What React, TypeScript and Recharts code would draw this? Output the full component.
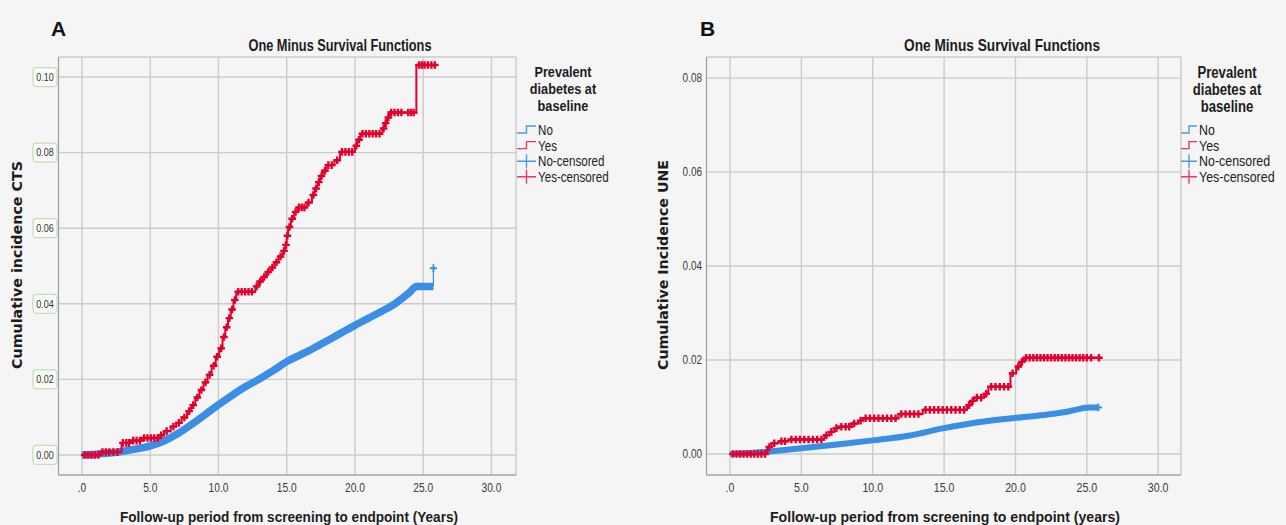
import React from 'react';
import { ComposedChart, Line, Scatter, XAxis, YAxis, CartesianGrid, Legend } from 'recharts';

type Pt = [number, number];

// ---------- shared axis data ----------
const xTicks = [0, 5, 10, 15, 20, 25, 30];
const xTickLabels = ['.0', '5.0', '10.0', '15.0', '20.0', '25.0', '30.0'];
const yTicksA = [0, 0.02, 0.04, 0.06, 0.08, 0.1];
const yTicksB = [0, 0.02, 0.04, 0.06, 0.08];
const legendTitle = ['Prevalent', 'diabetes at', 'baseline'];
const legendItems = ['No', 'Yes', 'No-censored', 'Yes-censored'];

// ---------- Panel A (CTS) ----------
const noCurveA: Pt[] = [
  [0, 0], [1, 0.0002], [2, 0.0005], [3, 0.001], [4, 0.0016], [5, 0.0024], [6, 0.0037],
  [7, 0.0056], [8, 0.008], [9, 0.0106], [10, 0.0133], [11, 0.0158], [12, 0.0181],
  [13, 0.0201], [14, 0.0223], [15, 0.0247], [16, 0.0265], [17, 0.0283], [18, 0.0303],
  [19, 0.0323], [20, 0.0343], [21, 0.0362], [22, 0.0381], [23, 0.0402], [24, 0.043],
  [24.5, 0.0446], [25.75, 0.0446],
];
const noLastStepA: Pt[] = [[25.75, 0.0446], [25.75, 0.0494]];
const noCensA: Pt[] = [[25.75, 0.0494]];

const yesStepsA: Pt[] = [
  [0, 0], [1.3, 0.0008], [2.9, 0.0032], [3.6, 0.0038], [4.4, 0.0045], [5.6, 0.0052],
  [6.0, 0.0063], [6.5, 0.0075], [6.9, 0.0085], [7.3, 0.0099], [7.7, 0.0116], [8.0, 0.0132],
  [8.3, 0.0152], [8.6, 0.0172], [8.9, 0.0192], [9.2, 0.0212], [9.5, 0.0236], [9.8, 0.026],
  [10.05, 0.0282], [10.3, 0.0312], [10.5, 0.0338], [10.7, 0.0362], [10.9, 0.0385],
  [11.1, 0.041], [11.3, 0.0432], [12.7, 0.0446], [12.95, 0.0459], [13.2, 0.0471],
  [13.5, 0.0484], [13.8, 0.0496], [14.1, 0.051], [14.4, 0.0525], [14.7, 0.054],
  [14.9, 0.0556], [15.0, 0.058], [15.1, 0.0603], [15.3, 0.0625], [15.55, 0.0643],
  [15.8, 0.0655], [16.5, 0.0668], [16.85, 0.0688], [17.05, 0.0705], [17.25, 0.0722],
  [17.45, 0.0738], [17.65, 0.0752], [17.9, 0.0767], [18.5, 0.078], [18.9, 0.0802],
  [20.0, 0.0818], [20.15, 0.0834], [20.4, 0.085], [22.0, 0.0864], [22.15, 0.0878],
  [22.35, 0.0893], [22.5, 0.0906], [24.5, 0.1032], [25.9, 0.1032],
];
const yesCensA: Pt[] = [
  [0.2, 0], [0.45, 0], [0.7, 0], [0.95, 0], [1.2, 0], [1.5, 0.0008], [1.75, 0.0008],
  [2.0, 0.0008], [2.3, 0.0008], [2.6, 0.0008], [3.0, 0.0032], [3.25, 0.0032], [3.45, 0.0032],
  [3.75, 0.0038], [4.0, 0.0038], [4.25, 0.0038], [4.55, 0.0045], [4.8, 0.0045], [5.05, 0.0045],
  [5.3, 0.0045], [5.55, 0.0045], [5.8, 0.0052], [6.2, 0.0063], [6.7, 0.0075], [7.1, 0.0085],
  [7.5, 0.0099], [7.85, 0.0116], [8.15, 0.0132], [8.45, 0.0152], [8.75, 0.0172],
  [9.05, 0.0192], [9.35, 0.0212], [9.65, 0.0236], [9.9, 0.026], [10.2, 0.0282],
  [10.4, 0.0312], [10.6, 0.0338], [10.8, 0.0362], [11.0, 0.0385], [11.2, 0.041],
  [11.45, 0.0432], [11.7, 0.0432], [11.95, 0.0432], [12.2, 0.0432], [12.45, 0.0432],
  [12.8, 0.0446], [13.05, 0.0459], [13.35, 0.0471], [13.65, 0.0484], [13.95, 0.0496],
  [14.25, 0.051], [14.55, 0.0525], [14.8, 0.054], [14.95, 0.0556], [15.05, 0.058],
  [15.2, 0.0603], [15.4, 0.0625], [15.65, 0.0643], [15.9, 0.0655], [16.1, 0.0655],
  [16.3, 0.0655], [16.6, 0.0668], [16.95, 0.0688], [17.15, 0.0705], [17.35, 0.0722],
  [17.55, 0.0738], [17.8, 0.0752], [18.05, 0.0767], [18.3, 0.0767], [18.7, 0.078],
  [19.05, 0.0802], [19.3, 0.0802], [19.55, 0.0802], [19.8, 0.0802], [20.1, 0.0818],
  [20.3, 0.0834], [20.55, 0.085], [20.8, 0.085], [21.05, 0.085], [21.3, 0.085],
  [21.55, 0.085], [21.8, 0.085], [22.1, 0.0864], [22.25, 0.0878], [22.45, 0.0893],
  [22.65, 0.0906], [22.9, 0.0906], [23.15, 0.0906], [23.4, 0.0906], [23.9, 0.0906],
  [24.1, 0.0906], [24.3, 0.0906], [24.7, 0.1032], [24.9, 0.1032], [25.1, 0.1032],
  [25.35, 0.1032], [25.6, 0.1032], [25.85, 0.1032],
];

// ---------- Panel B (UNE) ----------
const noCurveB: Pt[] = [
  [0, 0], [1.5, 0.0002], [2.6, 0.0005], [5, 0.0012], [7.5, 0.002], [10, 0.0029],
  [12.5, 0.0039], [15, 0.0055], [17.5, 0.0068], [20, 0.0077], [22, 0.0083],
  [23.6, 0.009], [25.2, 0.0099], [25.8, 0.0099],
];
const noCensB: Pt[] = [[25.8, 0.0099]];

const yesStepsB: Pt[] = [
  [0, 0], [2.6, 0.0015], [2.9, 0.0023], [3.4, 0.0027], [4.1, 0.0031], [6.6, 0.004],
  [6.95, 0.0047], [7.3, 0.0055], [7.6, 0.0058], [8.5, 0.0065], [9.0, 0.0071], [9.3, 0.0076],
  [11.8, 0.0085], [13.5, 0.0094], [16.6, 0.0104], [16.9, 0.0113], [17.1, 0.012],
  [17.8, 0.0128], [18.1, 0.0143], [19.65, 0.0172], [20.05, 0.0186], [20.35, 0.0196],
  [20.6, 0.0205], [25.85, 0.0205],
];
const yesCensB: Pt[] = [
  [0.2, 0], [0.45, 0], [0.7, 0], [0.95, 0], [1.2, 0], [1.45, 0], [1.7, 0], [1.95, 0],
  [2.2, 0], [2.45, 0],
  [2.75, 0.0015], [3.1, 0.0023], [3.6, 0.0027], [3.85, 0.0027], [4.3, 0.0031], [4.6, 0.0031],
  [4.9, 0.0031], [5.2, 0.0031], [5.5, 0.0031], [5.8, 0.0031], [6.1, 0.0031], [6.4, 0.0031],
  [6.75, 0.004], [7.1, 0.0047], [7.45, 0.0055], [7.8, 0.0058], [8.1, 0.0058], [8.35, 0.0058],
  [8.7, 0.0065], [9.15, 0.0071], [9.5, 0.0076], [9.8, 0.0076], [10.1, 0.0076], [10.4, 0.0076],
  [10.7, 0.0076], [11.0, 0.0076], [11.3, 0.0076], [11.6, 0.0076], [12.0, 0.0085],
  [12.3, 0.0085], [12.6, 0.0085], [12.9, 0.0085], [13.2, 0.0085], [13.7, 0.0094],
  [14.0, 0.0094], [14.3, 0.0094], [14.6, 0.0094], [14.9, 0.0094], [15.2, 0.0094],
  [15.5, 0.0094], [15.8, 0.0094], [16.1, 0.0094], [16.4, 0.0094], [16.75, 0.0104],
  [17.0, 0.0113], [17.3, 0.012], [17.6, 0.012], [17.95, 0.0128], [18.3, 0.0143],
  [18.6, 0.0143], [18.9, 0.0143], [19.2, 0.0143], [19.5, 0.0143], [19.8, 0.0172],
  [20.2, 0.0186], [20.45, 0.0196], [20.75, 0.0205], [21.0, 0.0205], [21.25, 0.0205],
  [21.5, 0.0205], [21.75, 0.0205], [22.0, 0.0205], [22.25, 0.0205], [22.5, 0.0205],
  [22.75, 0.0205], [23.0, 0.0205], [23.25, 0.0205], [23.5, 0.0205], [23.75, 0.0205],
  [24.0, 0.0205], [24.25, 0.0205], [24.5, 0.0205], [24.75, 0.0205], [25.0, 0.0205],
  [25.3, 0.0205], [25.85, 0.0205],
];

// ---------- styling ----------
const RED = '#e3002c';
const BLUE = '#3a8ee6';
const LEG_RED = '#e8395f';
const LEG_BLUE = '#4d9be8';
const SANS = "'Liberation Sans', Arial, sans-serif";
const WIDE = "'DejaVu Sans', Verdana, sans-serif";
const GRID = '#cbcbcb';
const AXIS = '#9c9c9c';
const INK = '#1c1c1c';

const rows = (pts: Pt[]) => pts.map(([t, v]) => ({ t, v }));

const plusShape = (color: string, h = 3.6, w = 3.6, sw = 2) => (props: any) => {
  const { cx, cy } = props;
  if (cx == null || cy == null) return <g />;
  return (
    <path
      d={`M${cx - w},${cy}H${cx + w}M${cx},${cy - h}V${cy + h}`}
      stroke={color}
      strokeWidth={sw}
      fill="none"
    />
  );
};

// narrow text via horizontal squeeze
const NText = ({ x, y, size, sx = 0.83, anchor = 'middle', weight = 'normal', fill = '#333', children }: any) => (
  <g transform={`translate(${x},${y}) scale(${sx},1)`}>
    <text x={0} y={0} dy="0.35em" textAnchor={anchor} fontFamily={SANS} fontSize={size} fontWeight={weight} fill={fill}>
      {children}
    </text>
  </g>
);

const XTick = (fontSize: number) => (props: any) => {
  const { x, payload } = props;
  const i = xTicks.indexOf(payload.value);
  return <NText x={x} y={488} size={fontSize} sx={0.85} fill="#3a3a3a">{i >= 0 ? xTickLabels[i] : ''}</NText>;
};

const BoxYTick = (props: any) => {
  const { y, payload } = props;
  return (
    <g>
      <rect x={33} y={y - 9.5} width={24} height={19} rx={3.5} fill="#f9fbf8" stroke="#bfe0b5" strokeWidth={1.2} />
      <NText x={45} y={y} size={11} sx={0.82} fill="#333">{Number(payload.value).toFixed(2)}</NText>
    </g>
  );
};

const PlainYTick = (props: any) => {
  const { y, payload } = props;
  return <NText x={59} y={y} size={12} sx={0.83} anchor="end" fill="#3a3a3a">{Number(payload.value).toFixed(2)}</NText>;
};

const LegendBox = ({ titleX, iconX, textX, fontSize, titleSize, iconW }: any) => (
  <svg width={140} height={130} style={{ display: 'block', overflow: 'visible' }}>
    {legendTitle.map((s, i) => (
      <NText key={s} x={titleX} y={12 + i * 17} size={titleSize} sx={0.82} weight="bold" fill={INK}>{s}</NText>
    ))}
    {legendItems.map((s, i) => {
      const cy = 70 + i * 15.6;
      const color = i % 2 === 0 ? LEG_BLUE : LEG_RED;
      const mid = iconX + iconW / 2;
      return (
        <g key={s}>
          {i < 2 ? (
            <path d={`M${iconX},${cy + 3}H${mid}V${cy - 4}H${iconX + iconW}`} stroke={color} strokeWidth={1.4} fill="none" />
          ) : (
            <path d={`M${iconX},${cy}H${iconX + iconW}M${mid},${cy - 7}V${cy + 7}`} stroke={color} strokeWidth={1.4} fill="none" />
          )}
          <NText x={textX} y={cy} size={fontSize} sx={0.83} anchor="start" fill={INK}>{s}</NText>
        </g>
      );
    })}
  </svg>
);

export default function App() {
  return (
    <div style={{ position: 'relative', width: 1286, height: 525, background: '#f5f5f5', overflow: 'hidden' }}>
      <style>{'body{margin:0;background:#f5f5f5}'}</style>

      {/* Panel A */}
      <ComposedChart width={643} height={525} margin={{ top: 57, right: 127, bottom: 0, left: 0 }}
        style={{ position: 'absolute', left: 0, top: 0 }}>
        <CartesianGrid stroke={GRID} strokeWidth={1.4} />
        <XAxis type="number" dataKey="t" domain={[-1.72, 31.8]} ticks={xTicks} allowDataOverflow
          height={50} tickLine={false} axisLine={{ stroke: AXIS }} tick={XTick(12)} interval={0} />
        <YAxis type="number" dataKey="v" domain={[-0.0053, 0.1053]} ticks={yTicksA} allowDataOverflow
          width={58.5} tickLine={false} axisLine={{ stroke: AXIS }} tick={BoxYTick} interval={0} />
        <Line data={rows(noCurveA)} dataKey="v" type="monotone" stroke={BLUE} strokeWidth={7.5}
          strokeLinejoin="round" dot={false} isAnimationActive={false} />
        <Line data={rows(noLastStepA)} dataKey="v" type="linear" stroke={BLUE} strokeWidth={1.2}
          dot={false} isAnimationActive={false} />
        <Scatter data={rows(noCensA)} dataKey="v" shape={plusShape(BLUE, 4, 3.5, 1.8)} isAnimationActive={false} />
        <Line data={rows(yesStepsA)} dataKey="v" type="stepAfter" stroke={RED} strokeWidth={2}
          dot={false} isAnimationActive={false} />
        <Scatter data={rows(yesCensA)} dataKey="v" shape={plusShape(RED, 3.8, 3.8, 2.4)} isAnimationActive={false} />
        <Legend layout="horizontal" verticalAlign="middle" align="center"
          wrapperStyle={{ left: 500, top: 60, width: 140, height: 130 }}
          content={() => <LegendBox titleX={63} iconX={17} textX={38} fontSize={14} titleSize={15.5} iconW={19} />} />
      </ComposedChart>

      {/* Panel B */}
      <ComposedChart width={643} height={525} margin={{ top: 57, right: 105, bottom: 0, left: 0 }}
        style={{ position: 'absolute', left: 643, top: 0 }}>
        <CartesianGrid stroke={GRID} strokeWidth={1.4} />
        <XAxis type="number" dataKey="t" domain={[-1.65, 31.6]} ticks={xTicks} allowDataOverflow
          height={50} tickLine={false} axisLine={{ stroke: AXIS }} tick={XTick(12.5)} interval={0} />
        <YAxis type="number" dataKey="v" domain={[-0.00447, 0.0845]} ticks={yTicksB} allowDataOverflow
          width={63.5} tickLine={false} axisLine={{ stroke: AXIS }} tick={PlainYTick} interval={0} />
        <Line data={rows(noCurveB)} dataKey="v" type="monotone" stroke={BLUE} strokeWidth={6}
          strokeLinejoin="round" dot={false} isAnimationActive={false} />
        <Scatter data={rows(noCensB)} dataKey="v" shape={plusShape(BLUE, 3.8, 3.8, 2.2)} isAnimationActive={false} />
        <Line data={rows(yesStepsB)} dataKey="v" type="stepAfter" stroke={RED} strokeWidth={2}
          dot={false} isAnimationActive={false} />
        <Scatter data={rows(yesCensB)} dataKey="v" shape={plusShape(RED, 3.8, 3.8, 2.4)} isAnimationActive={false} />
        <Legend layout="horizontal" verticalAlign="middle" align="center"
          wrapperStyle={{ left: 517, top: 60, width: 140, height: 130 }}
          content={() => <LegendBox titleX={67} iconX={21} textX={39} fontSize={15} titleSize={16} iconW={16} />} />
      </ComposedChart>

      {/* Text overlay */}
      <svg width={1286} height={525} style={{ position: 'absolute', left: 0, top: 0, pointerEvents: 'none' }}>
        {/* Panel A */}
        <text x={51} y={36} fontFamily={SANS} fontWeight="bold" fontSize={21} fill="#111">A</text>
        <text x={340} y={45} dy="0.35em" textAnchor="middle" fontFamily={SANS} fontWeight="bold" fontSize={16}
          fill={INK} textLength={183} lengthAdjust="spacingAndGlyphs">One Minus Survival Functions</text>
        <text x={17} y={265} dy="0.35em" textAnchor="middle" fontFamily={WIDE} fontWeight="bold" fontSize={14.2}
          fill={INK} transform="rotate(-90 17 265)" textLength={208} lengthAdjust="spacingAndGlyphs">Cumulative incidence CTS</text>
        <text x={289} y={517} dy="0.35em" textAnchor="middle" fontFamily={SANS} fontWeight="bold" fontSize={15.5}
          fill={INK} textLength={338} lengthAdjust="spacingAndGlyphs">Follow-up period from screening to endpoint (Years)</text>

        {/* Panel B */}
        <text x={700} y={36} fontFamily={SANS} fontWeight="bold" fontSize={21} fill="#111">B</text>
        <text x={1002} y={45} dy="0.35em" textAnchor="middle" fontFamily={SANS} fontWeight="bold" fontSize={16.5}
          fill={INK} textLength={196} lengthAdjust="spacingAndGlyphs">One Minus Survival Functions</text>
        <text x={663} y={265} dy="0.35em" textAnchor="middle" fontFamily={WIDE} fontWeight="bold" fontSize={14.2}
          fill={INK} transform="rotate(-90 663 265)" textLength={210} lengthAdjust="spacingAndGlyphs">Cumulative Incidence UNE</text>
        <text x={945} y={517} dy="0.35em" textAnchor="middle" fontFamily={SANS} fontWeight="bold" fontSize={15.5}
          fill={INK} textLength={350} lengthAdjust="spacingAndGlyphs">Follow-up period from screening to endpoint (years)</text>
      </svg>
    </div>
  );
}
